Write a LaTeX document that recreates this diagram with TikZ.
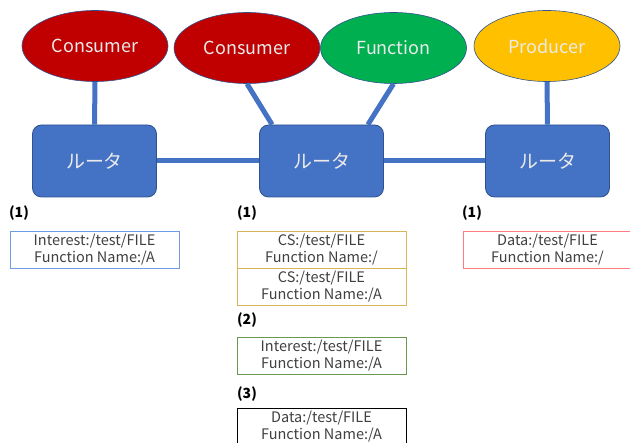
\documentclass[tikz,border=0pt]{standalone}
\usepackage{fontspec}
\setmainfont{Noto Sans CJK JP}
\usetikzlibrary{shapes.geometric}
\definecolor{routerblue}{HTML}{4472C4}
\definecolor{routeredge}{HTML}{2F528F}
\definecolor{consred}{HTML}{C00000}
\definecolor{funcgreen}{HTML}{00B050}
\definecolor{prodyellow}{HTML}{FFC000}
\definecolor{msgblue}{HTML}{6F9BE6}
\definecolor{msggold}{HTML}{D9B55A}
\definecolor{msggreen}{HTML}{6A9A4E}
\definecolor{msgred}{HTML}{FF7C80}
\definecolor{msgtext}{HTML}{404040}

\begin{document}
\begin{tikzpicture}[x=1pt,y=-1pt]
\tikzset{noeud/.style={draw=routeredge, line width=0.6pt, ellipse, minimum width=146pt, minimum height=71pt, inner sep=0pt, text=white!92!black, font=\fontsize{18}{18}\selectfont}}
\tikzset{routeur/.style={draw=routeredge, line width=0.8pt, fill=routerblue, rounded corners=9pt, minimum width=124pt, minimum height=72pt, inner sep=0pt, text=white!92!black, font=\fontsize{19}{19}\selectfont}}
\tikzset{lien/.style={routerblue, line width=5pt}}
\tikzset{paquet/.style={draw, line width=0.8pt, minimum width=169pt, minimum height=37pt, inner sep=0pt, align=center, text=msgtext, font=\fontsize{14.5}{17}\selectfont}}
\tikzset{etape/.style={font=\bfseries\fontsize{14}{14}\selectfont, text=black, inner sep=0pt}}
\useasboundingbox (0,0) rectangle (630,443);
\clip (0,0) rectangle (630,443);
\node[noeud, fill=consred] (C1) at (95,46) {Consumer};
\node[noeud, fill=consred] (C2) at (247,48) {Consumer};
\node[noeud, fill=funcgreen] (F) at (393.5,48) {Function};
\node[noeud, fill=prodyellow] (P) at (547,46) {Producer};
\node[routeur] (R1) at (94.5,161) {ルータ};
\node[routeur] (R2) at (321.5,161) {ルータ};
\node[routeur] (R3) at (547.5,161) {ルータ};
\draw[lien] (C1) -- (R1);
\draw[lien] (C2.south) -- ([xshift=13pt]R2.north west);
\draw[lien] (F.south) -- ([xshift=-16pt]R2.north east);
\draw[lien] (P) -- (R3);
\draw[lien] (R1) -- (R2);
\draw[lien] (R2) -- (R3);
% messages
\node[etape] (E1) at (19,213) {(1)};
\node[paquet, draw=msgblue] (M1) at (94.5,249.5) {Interest:/test/FILE\\Function Name:/A};
\node[etape] (E2) at (247,213) {(1)};
\node[paquet, draw=msggold] (M2) at (321.5,249.5) {CS:/test/FILE\\Function Name:/};
\node[paquet, draw=msggold] (M3) at (321.5,286.5) {CS:/test/FILE\\Function Name:/A};
\node[etape] (E3) at (247,320) {(2)};
\node[paquet, draw=msggreen] (M4) at (321.5,356) {Interest:/test/FILE\\Function Name:/A};
\node[etape] (E4) at (247,394) {(3)};
\node[paquet, draw=black] (M5) at (321.5,426.5) {Data:/test/FILE\\Function Name:/A};
\node[etape] (E5) at (472,213) {(1)};
\node[paquet, draw=msgred] (M6) at (547.5,249.5) {Data:/test/FILE\\Function Name:/};
\end{tikzpicture}
\end{document}
